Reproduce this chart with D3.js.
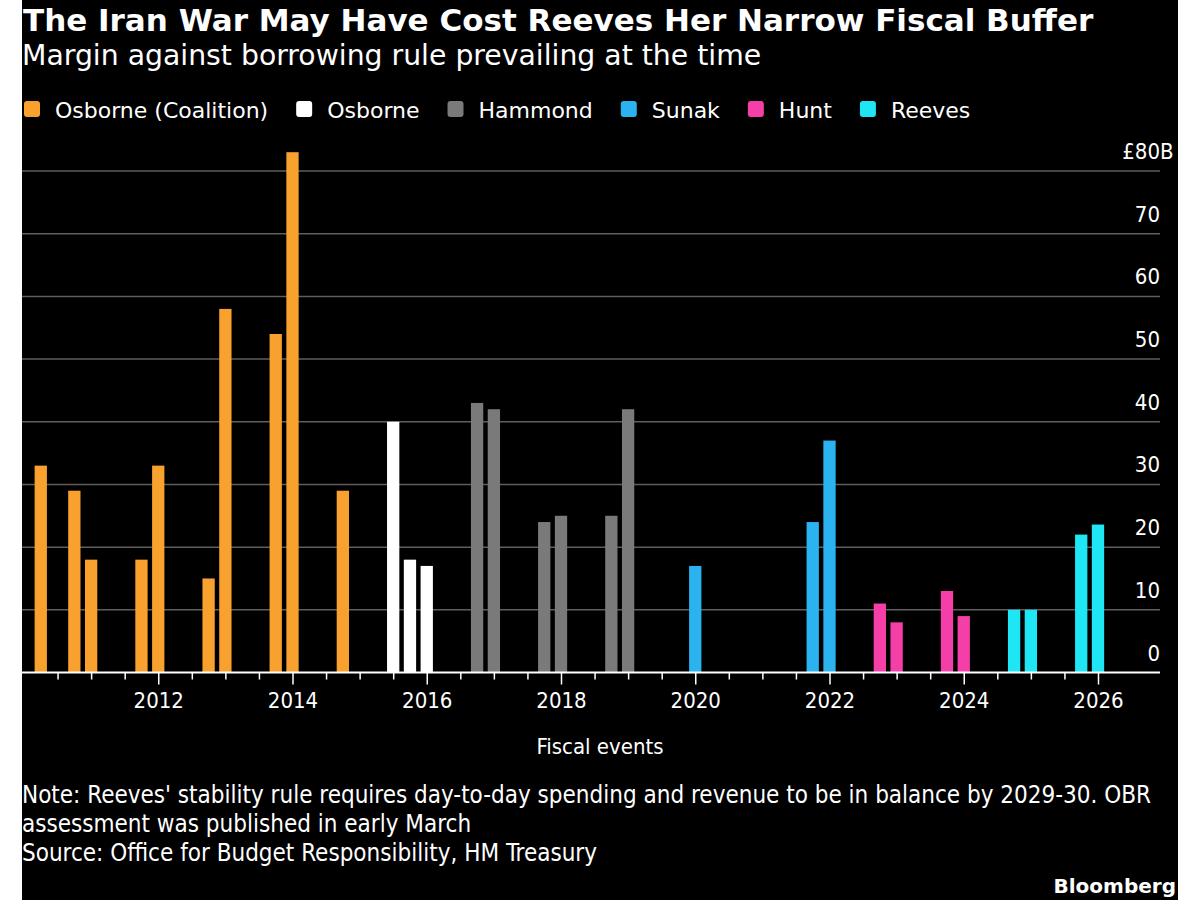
<!DOCTYPE html>
<html>
<head>
<meta charset="utf-8">
<script src="https://cdn.jsdelivr.net/npm/d3@7"></script>
<style>
  body { margin: 0; background: #fff; }
  text { fill: #fff; }
</style>
</head>
<body>
<script>
// chancellors (legend order)
var governments = ["Osborne (Coalition)", "Osborne", "Hammond", "Sunak", "Hunt", "Reeves"];
var govColors = ["#f8a12f", "#ffffff", "#7a7a7a", "#2bb3ef", "#f33fa7", "#1fe6f4"];

// fiscal events: position on the time axis (year), chancellor, headroom in £B
var eventDates = [2010.25, 2010.75, 2011.0, 2011.75, 2012.0, 2012.75, 2013.0, 2013.75, 2014.0, 2014.75,
                  2015.5, 2015.75, 2016.0,
                  2016.75, 2017.0, 2017.75, 2018.0, 2018.75, 2019.0,
                  2020.0, 2021.75, 2022.0,
                  2022.75, 2023.0, 2023.75, 2024.0,
                  2024.75, 2025.0, 2025.75, 2026.0];
var eventGov = ["Osborne (Coalition)", "Osborne (Coalition)", "Osborne (Coalition)", "Osborne (Coalition)", "Osborne (Coalition)",
                "Osborne (Coalition)", "Osborne (Coalition)", "Osborne (Coalition)", "Osborne (Coalition)", "Osborne (Coalition)",
                "Osborne", "Osborne", "Osborne",
                "Hammond", "Hammond", "Hammond", "Hammond", "Hammond", "Hammond",
                "Sunak", "Sunak", "Sunak",
                "Hunt", "Hunt", "Hunt", "Hunt",
                "Reeves", "Reeves", "Reeves", "Reeves"];
var eventValues = [33, 29, 18, 18, 33, 15, 58, 54, 83, 29,
                   40, 18, 17,
                   43, 42, 24, 25, 25, 42,
                   17, 24, 37,
                   11, 8, 13, 9,
                   10, 10, 22, 23.6];

var yTicks = [0, 10, 20, 30, 40, 50, 60, 70, 80];
var xLabelYears = [2012, 2014, 2016, 2018, 2020, 2022, 2024, 2026];

var events = eventDates.map(function(d, i) {
  return {date: d, gov: eventGov[i], value: eventValues[i]};
});

var W = 1200, H = 900;
var left = 22, right = 1160;   // plot extent (y labels sit at the right)
var baseY = 672.5, topY = 171;

var svg = d3.select("body").append("svg")
    .attr("width", W)
    .attr("height", H);

// black card
svg.append("rect")
    .attr("x", 22).attr("y", 0)
    .attr("width", 1156).attr("height", H)
    .attr("fill", "#000");

var color = d3.scaleOrdinal().domain(governments).range(govColors);

var x = d3.scaleLinear()
    .domain([2010, 2026])
    .range([24, 1098]);
var y = d3.scaleLinear()
    .domain([0, 80])
    .range([baseY, topY]);

// title + subtitle
svg.append("text")
    .attr("x", 23).attr("y", 31)
    .style("font-family", "DejaVu Sans")
    .style("font-weight", "bold")
    .style("font-size", "31px")
    .text("The Iran War May Have Cost Reeves Her Narrow Fiscal Buffer");

svg.append("text")
    .attr("x", 22).attr("y", 65)
    .style("font-family", "DejaVu Sans")
    .style("font-size", "28.3px")
    .text("Margin against borrowing rule prevailing at the time");

// legend
var lx = 24;
governments.forEach(function(g) {
  svg.append("rect")
      .attr("x", lx).attr("y", 101)
      .attr("width", 16).attr("height", 16)
      .attr("rx", 3)
      .attr("fill", color(g));
  var t = svg.append("text")
      .attr("x", lx + 31).attr("y", 118)
      .style("font-family", "DejaVu Sans")
      .style("font-size", "22px")
      .text(g);
  lx = lx + 31 + t.node().getComputedTextLength() + 28;
});

// gridlines
svg.append("g")
  .selectAll("line")
  .data(yTicks.filter(function(d) { return d > 0; }))
  .enter().append("line")
    .attr("x1", left).attr("x2", right)
    .attr("y1", function(d) { return y(d); })
    .attr("y2", function(d) { return y(d); })
    .attr("stroke", "#5e5e5e")
    .attr("stroke-width", 1.5);

// y labels, right aligned, sitting above each gridline
var yl = svg.append("g")
    .style("font-family", "DejaVu Sans Condensed")
    .style("font-size", "22px");
yl.selectAll("text")
  .data(yTicks)
  .enter().append("text")
    .attr("x", right)
    .attr("y", function(d) { return y(d) - 12; })
    .attr("text-anchor", "end")
    .text(function(d) { return d == 80 ? "£" + d : d; });
yl.append("text")
    .attr("x", right)
    .attr("y", y(80) - 12)
    .text("B");

// bars
var bw = 12.3;
svg.append("g")
  .selectAll("rect")
  .data(events)
  .enter().append("rect")
    .attr("x", function(d) { return x(d.date) - bw / 2; })
    .attr("width", bw)
    .attr("y", function(d) { return y(d.value); })
    .attr("height", function(d) { return baseY - y(d.value); })
    .attr("fill", function(d) { return color(d.gov); });

// x axis
var tickVals = d3.range(2010.5, 2026.01, 0.5);
var xAxis = svg.append("g")
    .attr("transform", "translate(0," + baseY + ")")
    .call(d3.axisBottom(x)
        .tickValues(tickVals)
        .tickSize(7)
        .tickFormat(function(d) { return xLabelYears.indexOf(d) >= 0 ? d : ""; }));

xAxis.select(".domain")
    .attr("d", "M" + left + ",0H" + right)
    .attr("stroke", "#fff")
    .attr("stroke-width", 2);
xAxis.selectAll(".tick line")
    .attr("stroke", "#fff")
    .attr("stroke-width", 1.5)
    .attr("y2", function(d) { return xLabelYears.indexOf(d) >= 0 ? 12 : 7; });
xAxis.selectAll(".tick text")
    .attr("y", 35.5)
    .attr("dy", null)
    .attr("fill", "#fff")
    .style("font-family", "DejaVu Sans Condensed")
    .style("font-size", "22px");

svg.append("text")
    .attr("x", 600).attr("y", 754)
    .attr("text-anchor", "middle")
    .style("font-family", "DejaVu Sans Condensed")
    .style("font-size", "22px")
    .text("Fiscal events");

// notes
var notes = ["Note: Reeves' stability rule requires day-to-day spending and revenue to be in balance by 2029-30. OBR",
             "assessment was published in early March",
             "Source: Office for Budget Responsibility, HM Treasury"];
svg.append("g")
  .selectAll("text")
  .data(notes)
  .enter().append("text")
    .attr("x", 22)
    .attr("y", function(d, i) { return 803 + i * 29; })
    .style("font-family", "'Liberation Sans Narrow', 'DejaVu Sans Condensed'")
    .style("font-size", "24px")
    .text(function(d) { return d; });

svg.append("text")
    .attr("x", 1176).attr("y", 893)
    .attr("text-anchor", "end")
    .style("font-family", "DejaVu Sans")
    .style("font-weight", "bold")
    .style("font-size", "20px")
    .text("Bloomberg");
</script>
</body>
</html>
